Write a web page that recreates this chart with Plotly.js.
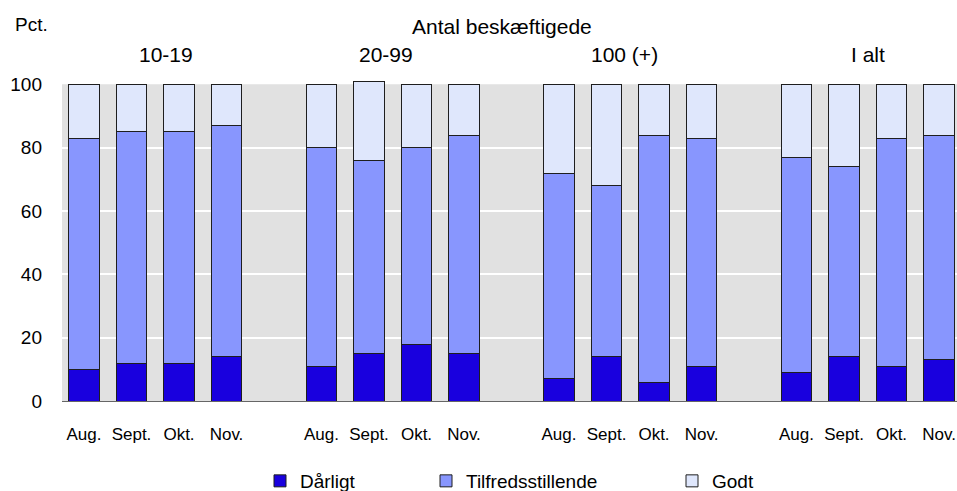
<!DOCTYPE html>
<html>
<head>
<meta charset="utf-8">
<script src="https://cdn.plot.ly/plotly-3.0.1.min.js"></script>
<style>html,body{margin:0;padding:0;background:#fff;}#chart{width:957px;height:491px;}</style>
</head>
<body>
<div id="chart"></div>
<script>
// ---- data ----
var groups = ["10-19", "20-99", "100 (+)", "I alt"];
var months = ["Aug.", "Sept.", "Okt.", "Nov."];
var seriesNames = ["Dårligt", "Tilfredsstillende", "Godt"];
var darligt = [10, 12, 12, 14, 11, 15, 18, 15, 7, 14, 6, 11, 9, 14, 11, 13];
var tilfreds = [73, 73, 73, 73, 69, 61, 62, 69, 65, 54, 78, 72, 68, 60, 72, 71];
var godt = [17, 15, 15, 13, 20, 25, 20, 16, 28, 32, 16, 17, 23, 26, 17, 16];
var yTicks = [0, 20, 40, 60, 80, 100];
var axisTitle = "Antal beskæftigede";
var unitLabel = "Pct.";

// ---- layout helpers ----
var FONT = "Liberation Sans, Arial, sans-serif";
var W = 957, H = 491;
var YMAX = 102;                       // headroom so a bar above 100 is not clipped
var PX100 = 317;                      // pixels for 100 units
var L = 62, R = 957, B = 401, T = B - PX100 * YMAX / 100;
function px2paperX(px) { return (px - L) / (R - L); }
function px2paperY(py) { return (B - py) / (B - T); }

// slot positions: 4 months per group, 1 empty slot between groups
var xs = [], tickVals = [], tickText = [];
groups.forEach(function (g, gi) {
  months.forEach(function (m, mi) {
    var p = gi * 5 + mi;
    xs.push(p); tickVals.push(p); tickText.push(m);
  });
});

var colors = ["#1900DE", "#8896FE", "#DFE7FC"];
var vals = [darligt, tilfreds, godt];
var legendIds = ["legend", "legend2", "legend3"];
var traces = vals.map(function (v, i) {
  return {
    type: "bar", x: xs, y: v, name: seriesNames[i], width: 0.632,
    marker: { color: colors[i], line: { color: "#1e1e1e", width: 1 } },
    cliponaxis: false, legend: legendIds[i], hoverinfo: "y+name"
  };
});

var groupCentersPx = [166, 386, 624, 868];
var annotations = groups.map(function (g, i) {
  return { text: g, xref: "paper", yref: "paper", x: px2paperX(groupCentersPx[i]), y: px2paperY(54),
           xanchor: "center", yanchor: "middle", showarrow: false, font: { family: FONT, size: 21, color: "#000" } };
});
annotations.push({ text: axisTitle, xref: "paper", yref: "paper", x: px2paperX(502), y: px2paperY(26),
  xanchor: "center", yanchor: "middle", showarrow: false, font: { family: FONT, size: 21, color: "#000" } });
annotations.push({ text: unitLabel, xref: "paper", yref: "paper", x: px2paperX(13), y: px2paperY(24),
  xanchor: "left", yanchor: "middle", showarrow: false, font: { family: FONT, size: 19, color: "#000" } });

function leg(px) {
  return { orientation: "h", xref: "container", yref: "container", x: px / W, xanchor: "left",
           y: (H - 481) / H, yanchor: "middle",
           bgcolor: "rgba(0,0,0,0)", borderwidth: 0, font: { family: FONT, size: 19, color: "#000" } };
}

var layout = {
  width: W, height: H,
  margin: { l: L, r: W - R, t: T, b: H - B, pad: 0, autoexpand: false },
  paper_bgcolor: "#ffffff", plot_bgcolor: "#ffffff",
  barmode: "stack", bargap: 0,
  font: { family: FONT, color: "#000" },
  showlegend: true,
  legend: leg(260), legend2: leg(426), legend3: leg(672),
  shapes: [{ type: "rect", xref: "paper", x0: 0, x1: 1, yref: "y", y0: 0, y1: 100,
             fillcolor: "#e1e1e1", line: { width: 0 }, layer: "below" }],
  xaxis: {
    range: [-0.463, 18.379], tickvals: tickVals, ticktext: tickText, ticks: "",
    showgrid: false, zeroline: false, showline: true, linecolor: "#666", linewidth: 1,
    tickfont: { family: FONT, size: 17, color: "#000" }, ticklabelstandoff: 18, fixedrange: true
  },
  yaxis: {
    range: [0, YMAX], tickvals: [20, 40, 60, 80], ticks: "", showgrid: true, gridcolor: "#ffffff", gridwidth: 2,
    zeroline: false, showline: false, showticklabels: false, fixedrange: true
  },
  yaxis2: {
    overlaying: "y", range: [0, YMAX], tickvals: yTicks, ticks: "", showgrid: false,
    zeroline: false, showline: false, tickfont: { family: FONT, size: 19, color: "#000" },
    ticklabelstandoff: 19, fixedrange: true
  },
  annotations: annotations
};

// invisible helper trace so the tick-label axis is drawn
traces.push({ type: "scatter", x: [0], y: [0], yaxis: "y2", mode: "markers", marker: { opacity: 0 },
              showlegend: false, hoverinfo: "skip" });

Plotly.newPlot("chart", traces, layout, { displayModeBar: false, staticPlot: true });
</script>
</body>
</html>
